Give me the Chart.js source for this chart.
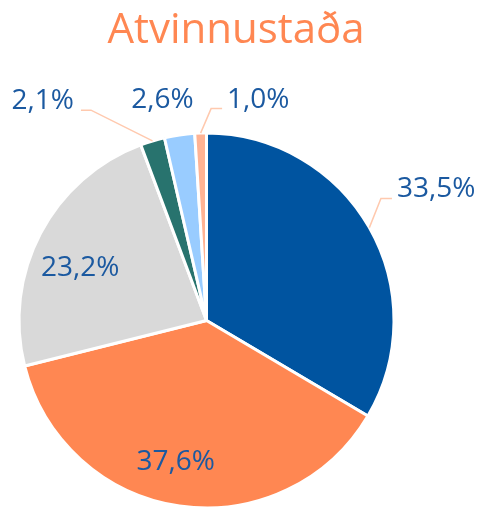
<!DOCTYPE html>
<html>
<head>
<meta charset="utf-8">
<script src="https://cdn.jsdelivr.net/npm/chart.js@4.4.1/dist/chart.umd.min.js"></script>
<style>
  html, body { margin: 0; padding: 0; background: #ffffff; }
  #wrap { width: 479px; height: 507px; position: relative; }
</style>
</head>
<body>
<div id="wrap"><canvas id="chart"></canvas></div>
<script>
// Gögn
const titill = "Atvinnustaða";
const flokkar = ["A", "B", "C", "D", "E", "F"];
const gildi = [33.5, 37.6, 23.2, 2.1, 2.6, 1.0];
const litir = ["#0054A0", "#FF8752", "#D9D9D9", "#28736E", "#99CCFF", "#FFB394"];

// Staðsetning merkja: fjarlægð (hlutfall af radíus), hornhliðrun (gráður), leiðarlína
const merkjaStada = [
  { k: 1.41, d: 0, line: true },
  { k: 0.77, d: 4, line: false },
  { k: 0.73, d: -5, line: false },
  { k: 1.46, d: -20, line: true },
  { k: 1.2, d: -3, line: false },
  { k: 1.21, d: 15, line: true },
];

const textaLitur = "#1B59A0";
const linuLitur = "#FFC9AE";
const leturMerki = "28px 'Open Sans', sans-serif";

// Teikna merki og titil
const merkjaPlugin = {
  id: "merki",
  afterDatasetsDraw(chart) {
    const ctx = chart.ctx;
    const meta = chart.getDatasetMeta(0);
    ctx.save();

    // Titill
    ctx.font = "42px 'Open Sans', sans-serif";
    ctx.fillStyle = "#FF8752";
    ctx.textAlign = "center";
    ctx.textBaseline = "middle";
    ctx.fillText(titill, 236, 31);

    ctx.font = leturMerki;
    meta.data.forEach((arc, i) => {
      const p = arc.getProps(["x", "y", "startAngle", "endAngle", "outerRadius"], true);
      const mid = (p.startAngle + p.endAngle) / 2;
      const st = merkjaStada[i];
      const a = mid + (st.d * Math.PI) / 180;
      const r = p.outerRadius * st.k;
      const tx = p.x + Math.cos(a) * r;
      const ty = p.y + Math.sin(a) * r;
      const txt = gildi[i].toFixed(1).replace(".", ",") + "%";
      const w = ctx.measureText(txt).width;

      if (st.line) {
        const sx = p.x + Math.cos(mid) * p.outerRadius;
        const sy = p.y + Math.sin(mid) * p.outerRadius;
        const ly = ty + 9;
        let ex, bx;
        if (tx - w / 2 > sx) {
          ex = tx - w / 2 - 5;
          bx = ex - 11;
        } else {
          ex = tx + w / 2 + 7;
          bx = ex + 10;
        }
        ctx.strokeStyle = linuLitur;
        ctx.lineWidth = 1.5;
        ctx.beginPath();
        ctx.moveTo(sx, sy);
        ctx.lineTo(bx, ly);
        ctx.lineTo(ex, ly);
        ctx.stroke();
      }

      ctx.fillStyle = textaLitur;
      ctx.textAlign = "center";
      ctx.textBaseline = "middle";
      ctx.fillText(txt, tx, ty);
    });
    ctx.restore();
  },
};

new Chart(document.getElementById("chart"), {
  type: "pie",
  data: {
    labels: flokkar,
    datasets: [
      {
        data: gildi,
        backgroundColor: litir,
        borderColor: "#ffffff",
        borderWidth: 3,
      },
    ],
  },
  options: {
    responsive: true,
    maintainAspectRatio: false,
    animation: false,
    radius: 187.5,
    layout: { padding: { left: 16, right: 82, top: 134, bottom: 0 } },
    plugins: {
      legend: { display: false },
      tooltip: { enabled: false },
      title: { display: false },
    },
  },
  plugins: [merkjaPlugin],
});
</script>
</body>
</html>
